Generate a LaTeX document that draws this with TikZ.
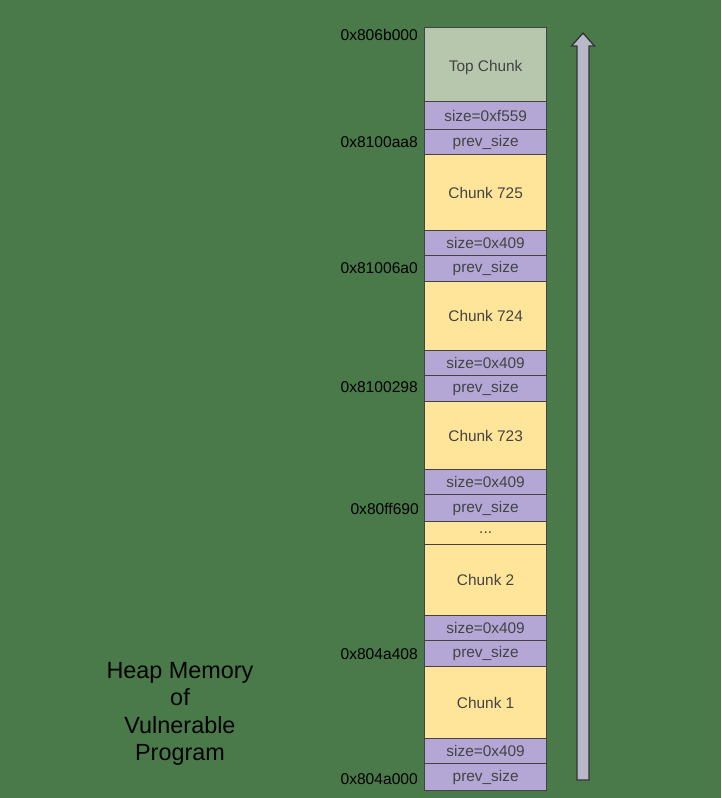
\documentclass[tikz,border=0pt]{standalone}
\usepackage{fontspec}
\setmainfont{Liberation Sans}
\definecolor{bg}{HTML}{4A7A4A}
\definecolor{topc}{HTML}{B6C7AE}
\definecolor{hdr}{HTML}{B4A7D6}
\definecolor{dat}{HTML}{FFE599}
\definecolor{edge}{HTML}{434343}
\definecolor{arr}{HTML}{B8B8C8}
\tikzset{
  blk/.style={draw=edge, line width=1.3pt, anchor=north west, minimum width=122pt, inner sep=0pt, text=edge, font=\fontsize{15.4}{17}\selectfont},
  hdrbox/.style={blk, fill=hdr},
  datbox/.style={blk, fill=dat},
  addr/.style={anchor=east, inner sep=0pt, font=\fontsize{15.6}{17}\selectfont, text=black},
}
\newcommand{\blkat}[5]{% name, style, top, bottom, text
  \pgfmathsetmacro{\hh}{#4-#3}
  \node[#2, minimum height=\hh pt] (#1) at (424pt,-#3 pt) {#5};
}
\begin{document}
\begin{tikzpicture}[x=1pt,y=1pt]
\fill[bg] (0,0) rectangle (721,-798);
\useasboundingbox (0,0) rectangle (721,-798);
\blkat{top}{blk, fill=topc, text depth=0pt, text height=14pt}{27}{101}{Top Chunk}
\blkat{s1}{hdrbox}{101}{129}{size=0xf559}
\blkat{p1}{hdrbox}{129}{154}{prev\_size}
\blkat{c725}{datbox}{154}{230}{Chunk 725}
\blkat{s2}{hdrbox}{230}{255}{size=0x409}
\blkat{p2}{hdrbox}{255}{281}{prev\_size}
\blkat{c724}{datbox}{281}{350}{Chunk 724}
\blkat{s3}{hdrbox}{350}{375}{size=0x409}
\blkat{p3}{hdrbox}{375}{401}{prev\_size}
\blkat{c723}{datbox}{401}{469}{Chunk 723}
\blkat{s4}{hdrbox}{469}{494}{size=0x409}
\blkat{p4}{hdrbox}{494}{521}{prev\_size}
\blkat{dots}{datbox}{521}{544}{...}
\blkat{c2}{datbox}{544}{615}{Chunk 2}
\blkat{s5}{hdrbox}{615}{640}{size=0x409}
\blkat{p5}{hdrbox}{640}{666}{prev\_size}
\blkat{c1}{datbox}{666}{738}{Chunk 1}
\blkat{s6}{hdrbox}{738}{763}{size=0x409}
\blkat{p6}{hdrbox}{763}{790}{prev\_size}
% addresses
\node[addr] (a1) at (418,-35) {0x806b000};
\node[addr] (a2) at (418,-142) {0x8100aa8};
\node[addr] (a3) at (418,-268) {0x81006a0};
\node[addr] (a4) at (418,-387) {0x8100298};
\node[addr] (a5) at (419,-509) {0x80ff690};
\node[addr] (a6) at (418,-654) {0x804a408};
\node[addr] (a7) at (418,-779) {0x804a000};
% caption
\node[align=center, font=\fontsize{23.4}{27.3}\selectfont, text=black, inner sep=0pt] (cap) at (180,-714) {Heap Memory\\of\\Vulnerable\\Program};
% growth arrow
\coordinate (tip) at (583,-33);
\filldraw[fill=arr, draw=black!80, line width=1.3pt, line join=miter]
  (577,-780) -- (577,-46) -- (571.5,-46) -- (tip) -- (594.5,-46) -- (589,-46) -- (589,-780) -- cycle;
\end{tikzpicture}
\end{document}
